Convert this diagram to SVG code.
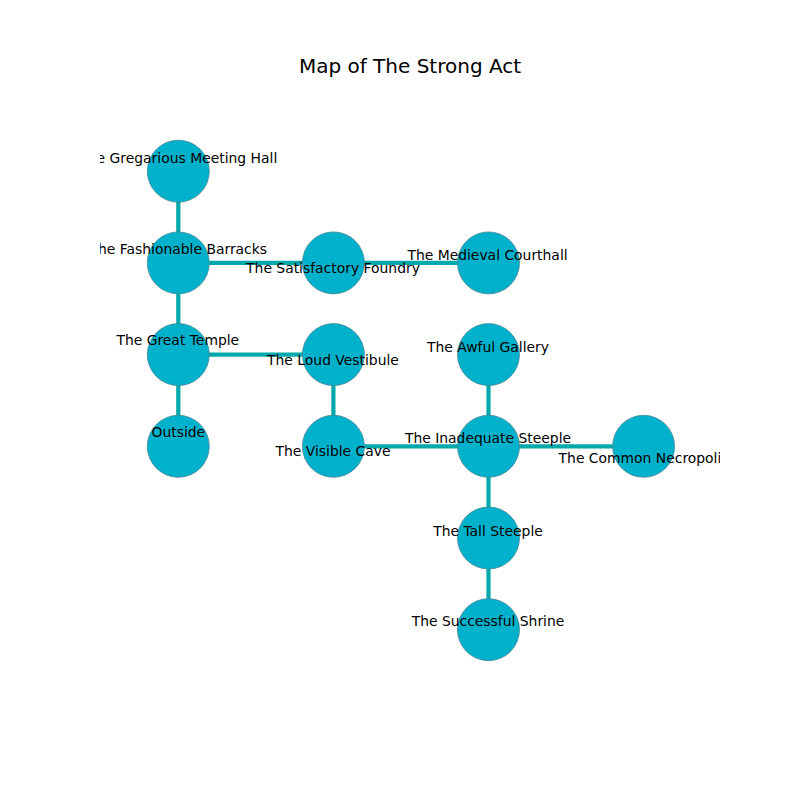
<svg xmlns="http://www.w3.org/2000/svg" width="800" height="800" viewBox="0 0 800 800">
<style>
.n{fill:#00b1cb;stroke:#4a8796;stroke-width:0.8}
.e{stroke:#03a8ab;stroke-width:4.2;stroke-linecap:butt;fill:none}
.t{font-family:"DejaVu Sans",sans-serif;font-size:13.9px;fill:#000;text-anchor:middle}
.ttl{font-family:"DejaVu Sans",sans-serif;font-size:20px;fill:#000;text-anchor:middle}
</style>
<defs><clipPath id="ax"><rect x="100" y="96" width="620" height="616"/></clipPath></defs>
<rect width="800" height="800" fill="#fff"/>
<text class="ttl" x="410" y="73.3">Map of The Strong Act</text>
<g id="connectors" clip-path="url(#ax)">
<line class="e" x1="178.3" y1="171.2" x2="178.3" y2="262.9"/>
<line class="e" x1="178.3" y1="262.9" x2="333.4" y2="262.9"/>
<line class="e" x1="333.4" y1="262.9" x2="488.5" y2="262.9"/>
<line class="e" x1="178.3" y1="262.9" x2="178.3" y2="354.6"/>
<line class="e" x1="178.3" y1="354.6" x2="333.4" y2="354.6"/>
<line class="e" x1="178.3" y1="354.6" x2="178.3" y2="446.3"/>
<line class="e" x1="333.4" y1="354.6" x2="333.4" y2="446.3"/>
<line class="e" x1="333.4" y1="446.3" x2="488.5" y2="446.3"/>
<line class="e" x1="488.5" y1="354.6" x2="488.5" y2="446.3"/>
<line class="e" x1="488.5" y1="446.3" x2="643.6" y2="446.3"/>
<line class="e" x1="488.5" y1="446.3" x2="488.5" y2="538"/>
<line class="e" x1="488.5" y1="538" x2="488.5" y2="629.7"/>
</g>
<g clip-path="url(#ax)">
<g id="gregarious"><circle class="n" cx="178.3" cy="171.2" r="31"/></g>
<g id="fashionable"><circle class="n" cx="178.3" cy="262.9" r="31"/></g>
<g id="satisfactory"><circle class="n" cx="333.4" cy="262.9" r="31"/></g>
<g id="medieval"><circle class="n" cx="488.5" cy="262.9" r="31"/></g>
<g id="greattemple"><circle class="n" cx="178.3" cy="354.6" r="31"/></g>
<g id="loudvestibule"><circle class="n" cx="333.4" cy="354.6" r="31"/></g>
<g id="awfulgallery"><circle class="n" cx="488.5" cy="354.6" r="31"/></g>
<g id="outside"><circle class="n" cx="178.3" cy="446.3" r="31"/></g>
<g id="visiblecave"><circle class="n" cx="333.4" cy="446.3" r="31"/></g>
<g id="inadequate"><circle class="n" cx="488.5" cy="446.3" r="31"/></g>
<g id="necropolis"><circle class="n" cx="643.6" cy="446.3" r="31"/></g>
<g id="tallsteeple"><circle class="n" cx="488.5" cy="538" r="31"/></g>
<g id="shrine"><circle class="n" cx="488.5" cy="629.7" r="31"/></g>
<g id="labels">
<text class="t" x="178.3" y="163.3">The Gregarious Meeting Hall</text>
<text class="t" x="178.3" y="253.5">The Fashionable Barracks</text>
<text class="t" x="333" y="272.5">The Satisfactory Foundry</text>
<text class="t" x="487.5" y="260">The Medieval Courthall</text>
<text class="t" x="177.8" y="345">The Great Temple</text>
<text class="t" x="333" y="365">The Loud Vestibule</text>
<text class="t" x="488" y="352.3">The Awful Gallery</text>
<text class="t" x="178.3" y="437.3">Outside</text>
<text class="t" x="333" y="455.7">The Visible Cave</text>
<text class="t" x="488" y="443.3">The Inadequate Steeple</text>
<text class="t" x="643.6" y="463.3">The Common Necropolis</text>
<text class="t" x="488" y="535.7">The Tall Steeple</text>
<text class="t" x="488" y="626">The Successful Shrine</text>
</g>
</g>
</svg>
